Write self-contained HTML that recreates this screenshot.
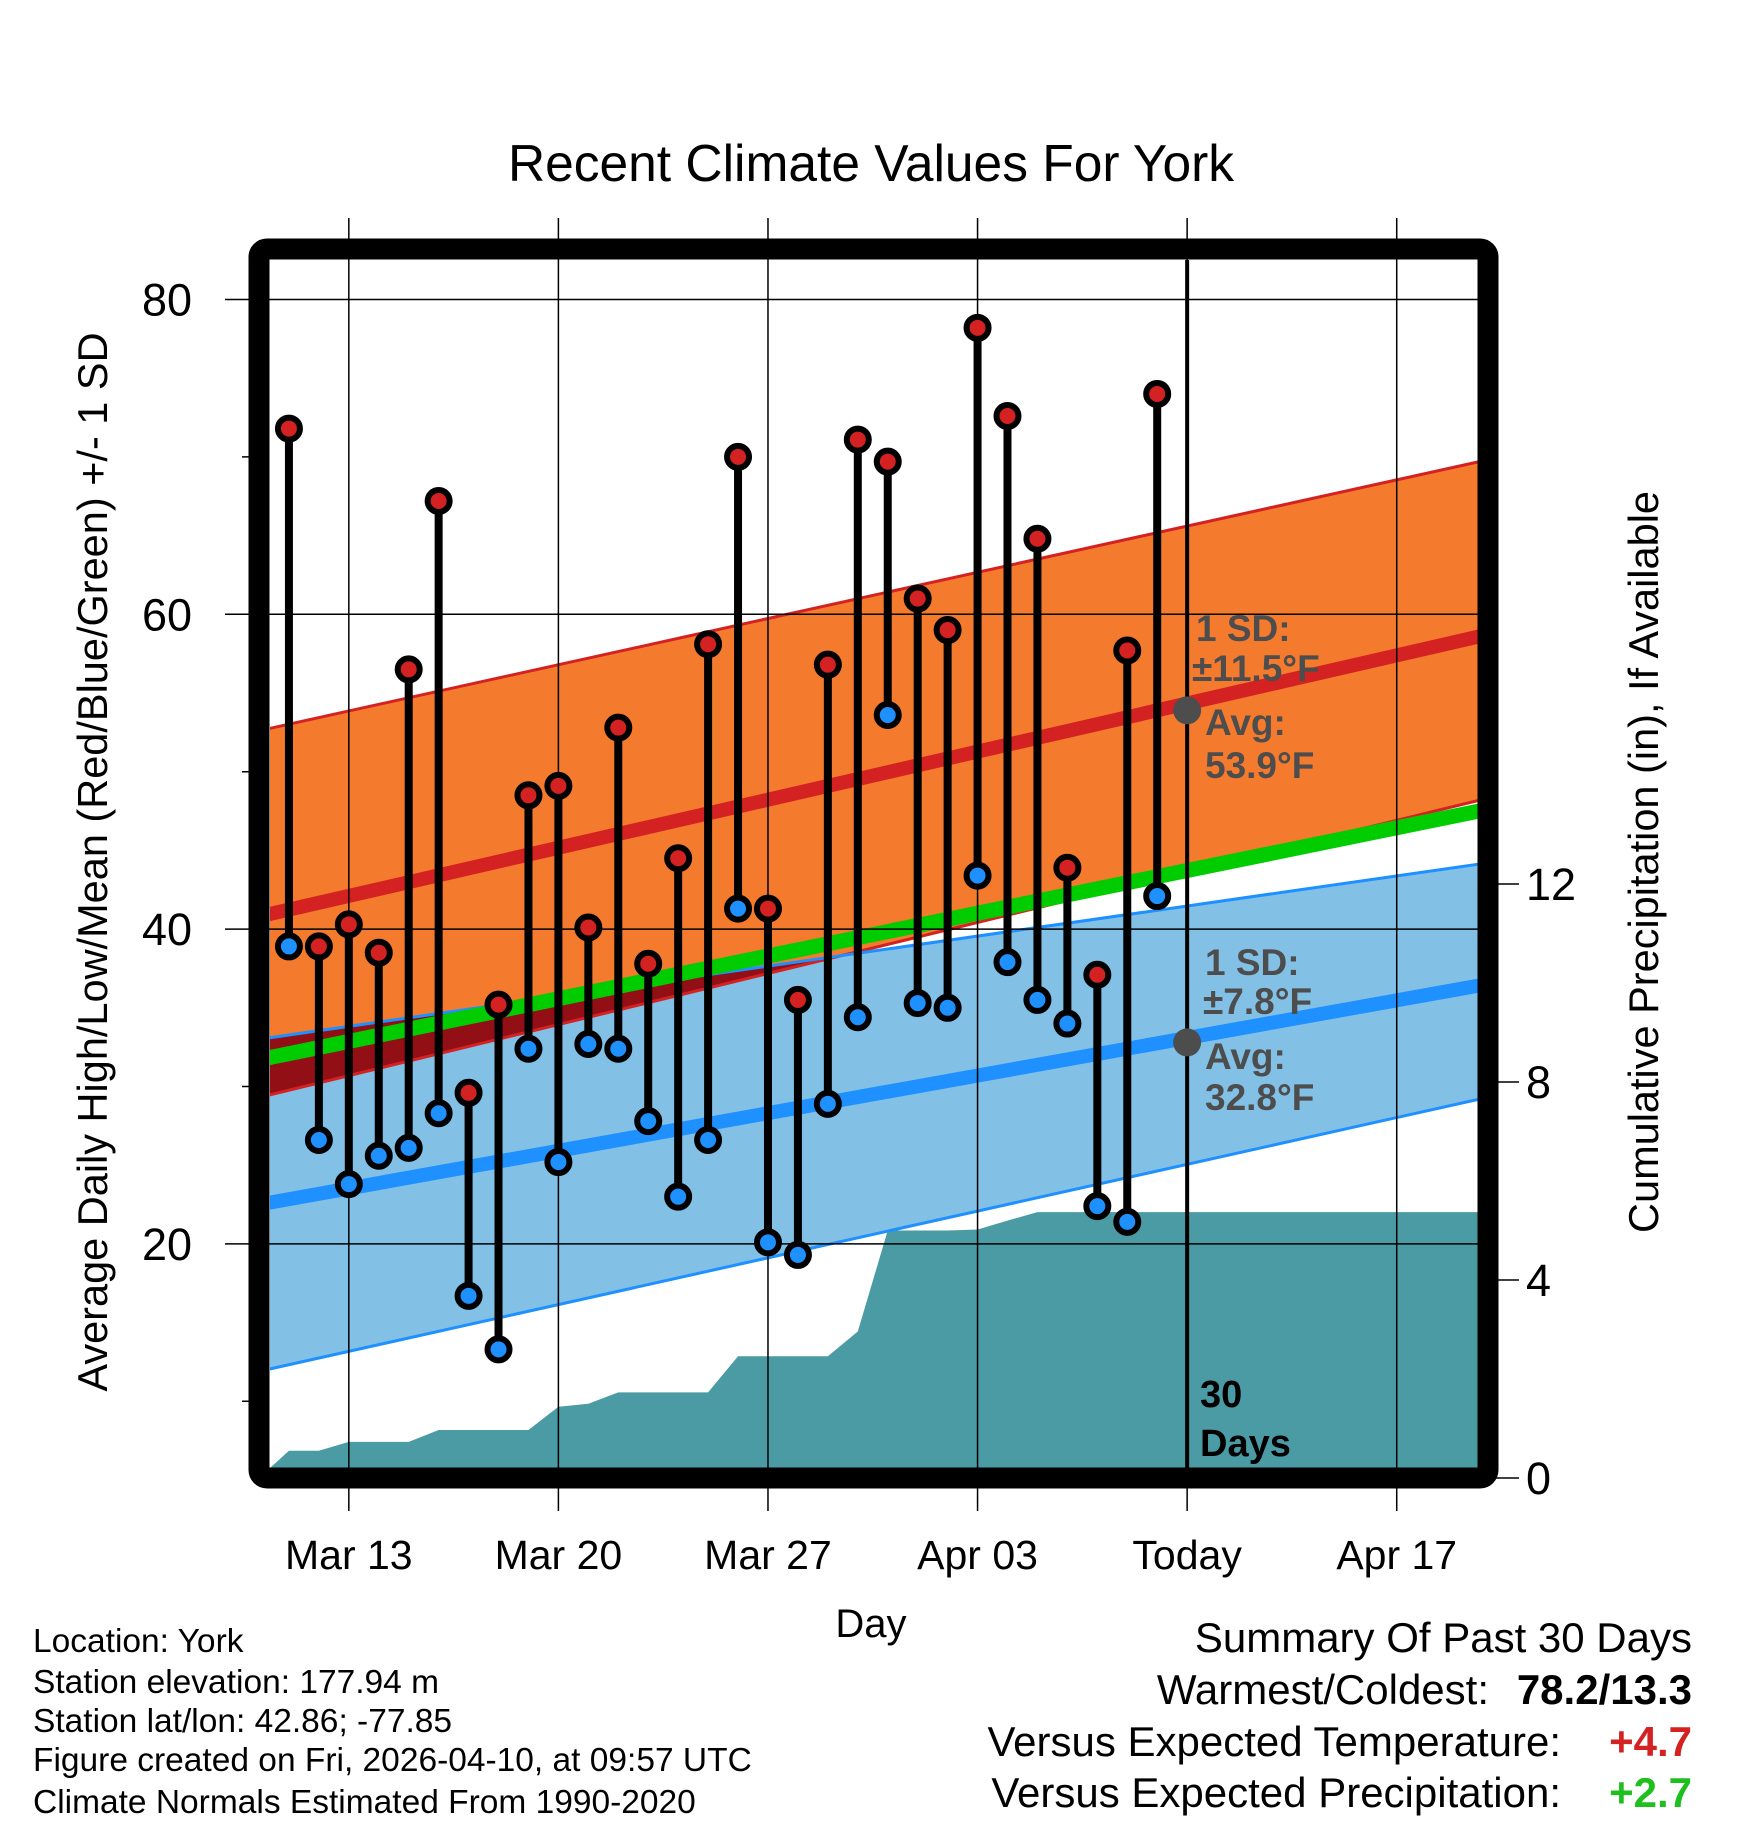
<!DOCTYPE html>
<html><head><meta charset="utf-8">
<style>
html,body{margin:0;padding:0;background:#fff;}
svg{display:block;font-family:"Liberation Sans",Arial,sans-serif;}
</style></head>
<body>
<svg id="chart" width="1748" height="1828" viewBox="0 0 1748 1828" xmlns="http://www.w3.org/2000/svg">
<defs><clipPath id="plotclip"><rect x="270" y="260" width="1208" height="1208"/></clipPath></defs>
<text x="871" y="181" font-size="51.5" text-anchor="middle">Recent Climate Values For York</text>
<g id="bands" clip-path="url(#plotclip)"></g>
<g id="grid"></g>
<g id="marks" clip-path="url(#plotclip)"></g>
<g id="annot" font-weight="bold" fill="#4d4d4d" font-size="37">
<text x="1196" y="641">1 SD:</text>
<text x="1192" y="681">±11.5°F</text>
<text x="1205" y="735">Avg:</text>
<text x="1205" y="778">53.9°F</text>
<text x="1205" y="975">1 SD:</text>
<text x="1203" y="1014">±7.8°F</text>
<text x="1205" y="1069">Avg:</text>
<text x="1205" y="1110">32.8°F</text>
</g>
<g font-weight="bold" font-size="38" fill="#000">
<text x="1200" y="1407">30</text>
<text x="1200" y="1456">Days</text>
</g>
<rect x="259" y="249" width="1229" height="1229" rx="8" fill="none" stroke="#000" stroke-width="21"/>
<text transform="translate(107,862) rotate(-90)" font-size="41.5" text-anchor="middle">Average Daily High/Low/Mean (Red/Blue/Green) +/- 1 SD</text>
<text transform="translate(1658,862) rotate(-90)" font-size="41.5" text-anchor="middle">Cumulative Precipitation (in), If Available</text>
<text x="871" y="1637" font-size="40" text-anchor="middle">Day</text>
<g font-size="33.5">
<text x="33" y="1652">Location: York</text>
<text x="33" y="1693">Station elevation: 177.94 m</text>
<text x="33" y="1732">Station lat/lon: 42.86; -77.85</text>
<text x="33" y="1771">Figure created on Fri, 2026-04-10, at 09:57 UTC</text>
<text x="33" y="1813">Climate Normals Estimated From 1990-2020</text>
</g>
<g font-size="42">
<text x="1692" y="1652" text-anchor="end">Summary Of Past 30 Days</text>
<text x="1489" y="1704" text-anchor="end">Warmest/Coldest:</text>
<text x="1692" y="1704" text-anchor="end" font-weight="bold">78.2/13.3</text>
<text x="1561" y="1756" text-anchor="end">Versus Expected Temperature:</text>
<text x="1692" y="1756" text-anchor="end" font-weight="bold" fill="#d42222">+4.7</text>
<text x="1561" y="1807" text-anchor="end">Versus Expected Precipitation:</text>
<text x="1692" y="1807" text-anchor="end" font-weight="bold" fill="#1fbf1f">+2.7</text>
</g>
</svg>
<script>
// ---- data ----
const dayLabels = ["Mar 13","Mar 20","Mar 27","Apr 03","Today","Apr 17"];
const dayLabelIdx = [3,10,17,24,31,38];
const tempTicks = [20,40,60,80];
const tempMinor = [10,30,50,70];
const precipTicks = [0,4,8,12];
const highs = [71.8,38.9,40.3,38.5,56.5,67.2,29.6,35.2,48.5,49.1,40.1,52.8,37.8,44.5,58.1,70.0,41.3,35.5,56.8,71.1,69.7,61.0,59.0,78.2,72.6,64.8,43.9,37.1,57.7,74.0];
const lows  = [38.9,26.6,23.8,25.6,26.1,28.3,16.7,13.3,32.4,25.2,32.7,32.4,27.8,23.0,26.6,41.3,20.1,19.3,28.9,34.4,53.6,35.3,35.0,43.4,37.9,35.5,34.0,22.4,21.4,42.1];
const precip = [0,0.55,0.55,0.73,0.73,0.73,0.97,0.97,0.97,0.97,1.44,1.5,1.73,1.73,1.73,1.73,2.46,2.46,2.46,2.46,2.96,5.0,5.0,5.0,5.02,5.2,5.37,5.37,5.37,5.37,5.37];
// normals at start (Mar 10) and end (Apr 20)
const highMean = [40.8,58.7];
const highTop = [52.6,69.8];
const highBot = [29.3,48.3];
const lowMean = [22.5,36.5];
const lowTop = [33.0,44.2];
const lowBot = [11.9,29.3];
const avgMean = [31.7,47.6];
const todayIdx = 31, lastIdx = 41;
const todayHighAvg = 53.9, todayLowAvg = 32.8;

// ---- scales ----
const X = d => 259 + 29.94*d;
const Y = t => 299.5 + (80 - t)*15.74;
const P = p => 1478 - 49.5*p;
const NS = "http://www.w3.org/2000/svg";
function mk(tag, attrs, parent){const e=document.createElementNS(NS,tag);for(const k in attrs)e.setAttribute(k,attrs[k]);parent.appendChild(e);return e;}
const bands=document.getElementById('bands'), grid=document.getElementById('grid'), marks=document.getElementById('marks');
const x0=X(0), x1=X(lastIdx);
function band(top,bot){return `${x0},${Y(top[0])} ${x1},${Y(top[1])} ${x1},${Y(bot[1])} ${x0},${Y(bot[0])}`;}

let pts=[];
precip.forEach((v,i)=>pts.push(X(i)+','+P(v)));
pts.push(X(lastIdx)+','+P(precip[precip.length-1]));
pts.push(X(lastIdx)+','+P(0)); pts.push(X(0)+','+P(0));
let e=mk('polygon',{points:pts.join(' '),fill:'#4a9ba3'},bands);
 

e=mk('polygon',{points:band(lowTop,lowBot),fill:'#82c0e6'},bands);
 
e=mk('polygon',{points:band(highTop,highBot),fill:'#f47a2e'},bands);
 
const dHT=(highBot[1]-highBot[0])/lastIdx, dLT=(lowTop[1]-lowTop[0])/lastIdx;
const cross=(lowTop[0]-highBot[0])/(dHT-dLT);
const yc=highBot[0]+dHT*cross;
e=mk('polygon',{points:`${x0},${Y(lowTop[0])} ${X(cross)},${Y(yc)} ${x0},${Y(highBot[0])}`,fill:'#930f16'},bands);
 
function line(v,col,w,name){const l=mk('line',{x1:x0,y1:Y(v[0]),x2:x1,y2:Y(v[1]),stroke:col,'stroke-width':w},bands);
 }
line(highTop,'#d42222',3,'high-sd-upper');
line(highBot,'#d42222',3,'high-sd-lower');
line(lowTop,'#1e90ff',3,'low-sd-upper');
line(lowBot,'#1e90ff',3,'low-sd-lower');
line(avgMean,'#00cc00',15,'mean-normal-line');
line(highMean,'#d42222',14,'high-normal-line');
line(lowMean,'#1e90ff',14,'low-normal-line');

tempTicks.forEach(t=>{const g=mk('line',{x1:225,y1:Y(t),x2:1478,y2:Y(t),stroke:'#000','stroke-width':1.5},grid);
 
const tx=mk('text',{x:192,y:Y(t)+16,'font-size':45,'text-anchor':'end'},grid); tx.textContent=t;
 });
tempMinor.forEach(t=>{const g=mk('line',{x1:242,y1:Y(t),x2:260,y2:Y(t),stroke:'#000','stroke-width':1.5},grid);
 });
precipTicks.forEach(p=>{const g=mk('line',{x1:1490,y1:P(p),x2:1519,y2:P(p),stroke:'#000','stroke-width':1.5},grid);
 
const tx=mk('text',{x:1526,y:P(p)+16,'font-size':45},grid); tx.textContent=p;
 });
dayLabelIdx.forEach((d,i)=>{const g=mk('line',{x1:X(d),y1:218,x2:X(d),y2:1511,stroke:'#000','stroke-width':1.5},grid);
 
const tx=mk('text',{x:X(d),y:1569,'font-size':41,'text-anchor':'middle'},grid); tx.textContent=dayLabels[i];
 });

highs.forEach((h,i)=>{const d=i+1,l=lows[i];
const s=mk('line',{x1:X(d),y1:Y(h),x2:X(d),y2:Y(l),stroke:'#000','stroke-width':8},marks);
 });
highs.forEach((h,i)=>{const d=i+1;
const c1=mk('circle',{cx:X(d),cy:Y(h),r:11,fill:'#d42222',stroke:'#000','stroke-width':6},marks);
 
const c2=mk('circle',{cx:X(d),cy:Y(lows[i]),r:11,fill:'#1e90ff',stroke:'#000','stroke-width':6},marks);
 });
e=mk('line',{x1:X(todayIdx),y1:249,x2:X(todayIdx),y2:1478,stroke:'#000','stroke-width':4},marks);
 
e=mk('circle',{cx:X(todayIdx),cy:Y(todayHighAvg),r:14,fill:'#4d4d4d'},marks);
 
e=mk('circle',{cx:X(todayIdx),cy:Y(todayLowAvg),r:14,fill:'#4d4d4d'},marks);
 
</script>
</body></html>
